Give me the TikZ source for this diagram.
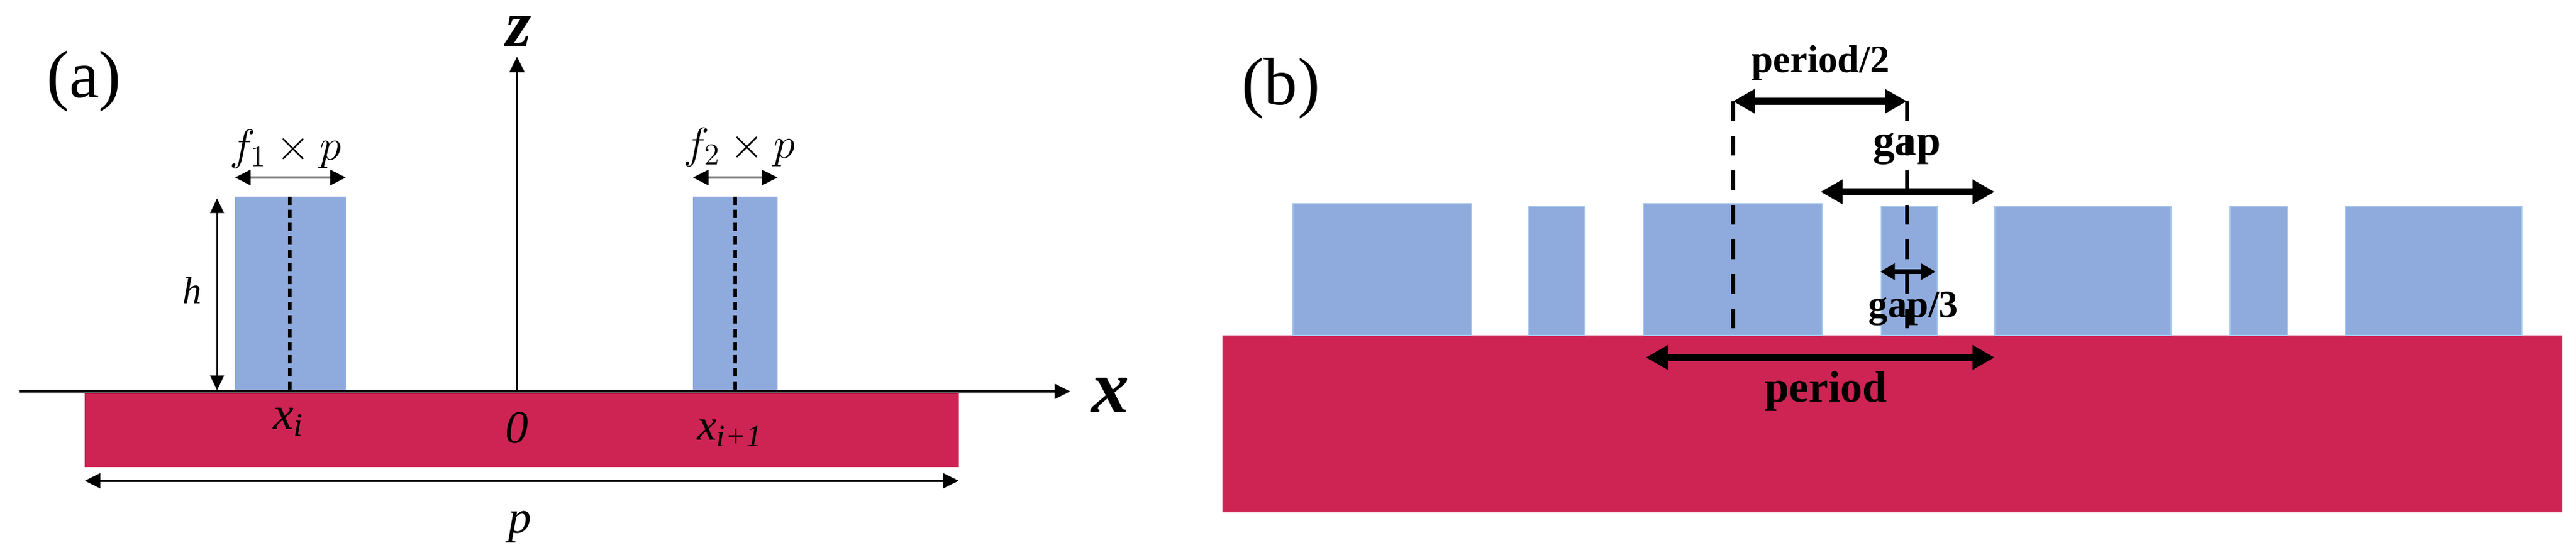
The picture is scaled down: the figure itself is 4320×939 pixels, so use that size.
\documentclass[tikz,border=0pt]{standalone}
\usepackage{fontspec}
\setmainfont{Liberation Serif}
\usetikzlibrary{arrows.meta}
\definecolor{ridge}{HTML}{8FAADC}
\definecolor{ridgeedge}{HTML}{A6C8EC}
\definecolor{substrate}{HTML}{CD2454}
\tikzset{
	txt/.style={inner sep=0pt,font=\fontsize{#1}{#1}\selectfont},
	bold/.style={inner sep=0pt,font=\fontsize{#1}{#1}\selectfont\bfseries},
	axis/.style={line width=1.4pt,-{Triangle[length=7.5pt,width=7pt]}},
	dimthin/.style={line width=.7pt,{Triangle[length=7pt,width=6.5pt]}-{Triangle[length=7pt,width=6.5pt]}},
	dimgray/.style={line width=1.2pt,draw=black!55,{Triangle[length=7.5pt,width=7.2pt,color=black]}-{Triangle[length=7.5pt,width=7.2pt,color=black]}},
	dimthick/.style={line width=3.4pt,{Triangle[length=10.5pt,width=11pt]}-{Triangle[length=10.5pt,width=11pt]}},
	dimsmall/.style={line width=2.2pt,{Triangle[length=7pt,width=7.5pt]}-{Triangle[length=7pt,width=7.5pt]}},
	center a/.style={line width=1.5pt,dash pattern=on 4pt off 2.3pt},
	center b/.style={line width=2pt,dash pattern=on 9.4pt off 7.1pt}
}
\begin{document}
\begin{tikzpicture}[x=.01cm,y=-.01cm]
	\useasboundingbox (0,0) rectangle (4320,939);
	% (a)
	\fill[substrate] (142,660) rectangle (1608,784);
	\foreach \l/\r in {394/580,1162/1304}\fill[ridge] (\l,330) rectangle (\r,657);
	\path (33,657) coordinate (XL) (1795,657) coordinate (XR) (867,657) coordinate (O) (867,95) coordinate (ZT)
		(486,330) coordinate (Ia) (486,657) coordinate (Ib) (1233,330) coordinate (Ja) (1233,657) coordinate (Jb)
		(394,298) coordinate (Fa) (580,298) coordinate (Fb) (1162,298) coordinate (Ga) (1304,298) coordinate (Gb)
		(364,333) coordinate (Ha) (364,655) coordinate (Hb) (142,807) coordinate (Pa) (1608,807) coordinate (Pb);
	\draw[axis] (XL)--(XR);
	\draw[axis] (O)--(ZT);
	\draw[center a] (Ia)--(Ib);
	\draw[center a] (Ja)--(Jb);
	\draw[dimgray] (Fa)--(Fb);
	\draw[dimgray] (Ga)--(Gb);
	\draw[dimthin] (Ha)--(Hb);
	\draw[axis,{Triangle[length=7.5pt,width=7pt]}-{Triangle[length=7.5pt,width=7pt]}] (Pa)--(Pb);
	\node[txt=32] (lbla) at (141,136) {(a)};
	\node[txt=31] (lblz) at (870,52) {\textbf{\textit{z}}};
	\node[txt=36] (lblx) at (1862,663) {\textbf{\textit{x}}};
	\node[txt=22] (lblf) at (479,250) {$f_1\times p$};
	\node[txt=22] (lblg) at (1240,247) {$f_2\times p$};
	\node[txt=18] (lblh) at (322,488) {\textit{h}};
	\node[txt=22] (lblxi) at (484,708) {\textit{x}\textsubscript{\textit{i}}};
	\node[txt=22] (lblo) at (867,718) {\textit{0}};
	\node[txt=21] (lblxj) at (1224,727) {\textit{x}\textsubscript{\textit{i+1}}};
	\node[txt=22] (lblp) at (872,884) {\textit{p}};
	% (b)
	\fill[substrate] (2050,563) rectangle (4297,860);
	\foreach \l/\r/\t in {2168/2468/342,2564/2658/347,2756/3056/342,3155/3249/347,3345/3641/346,3740/3836/346,3933/4229/346}
		\filldraw[fill=ridge,draw=ridgeedge,line width=.5pt] (\l,\t) rectangle (\r,563);
	\path (2906,170) coordinate (A) (2906,553) coordinate (B) (3198,170) coordinate (C) (3198,553) coordinate (D)
		(3053,322) coordinate (E) (3345,322) coordinate (F) (3153,456) coordinate (G) (3246,456) coordinate (H)
		(2760,600) coordinate (K) (3345,600) coordinate (L);
	\draw[center b] (A)--(B);
	\draw[center b] (C)--(D);
	\draw[dimthick] (A)--(C);
	\draw[dimthick] (E)--(F);
	\draw[dimsmall] (G)--(H);
	\draw[dimthick] (K)--(L);
	\node[txt=32] (lblb) at (2148,148) {(b)};
	\node[bold=18.5] (lblhalf) at (3053,106) {period/2};
	\node[bold=20.7] (lblgap) at (3198,250) {gap};
	\node[bold=18.3] (lblthird) at (3209,518) {gap/3};
	\node[bold=21] (lblper) at (3062,657) {period};
\end{tikzpicture}
\end{document}
